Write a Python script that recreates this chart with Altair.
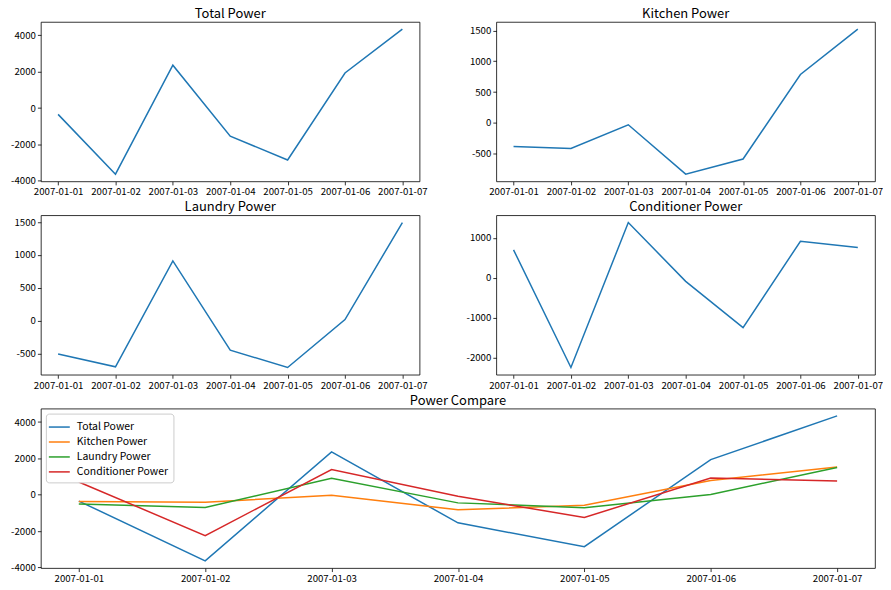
import altair as alt
import pandas as pd

dates = ["2007-01-01", "2007-01-02", "2007-01-03", "2007-01-04",
         "2007-01-05", "2007-01-06", "2007-01-07"]
total = [-350, -3640, 2360, -1550, -2860, 1930, 4340]
kitchen = [-380, -415, -30, -830, -585, 785, 1520]
laundry = [-510, -705, 910, -450, -715, 15, 1495]
conditioner = [700, -2250, 1385, -90, -1250, 915, 760]

series_names = ["Total Power", "Kitchen Power", "Laundry Power", "Conditioner Power"]
series_values = [total, kitchen, laundry, conditioner]
tick_sets = [
    [-4000, -2000, 0, 2000, 4000],
    [-500, 0, 500, 1000, 1500],
    [-500, 0, 500, 1000, 1500],
    [-2000, -1000, 0, 1000],
]
compare_ticks = [-4000, -2000, 0, 2000, 4000]
colors = ["#1f77b4", "#ff7f0e", "#2ca02c", "#d62728"]

FONT = "Noto Sans CJK SC"
TICK_FS = 9.7

rows = []
for name, vals in zip(series_names, series_values):
    for d, v in zip(dates, vals):
        rows.append({"date": d, "value": v, "series": name})
df = pd.DataFrame(rows)


def padded(vals):
    lo, hi = min(vals), max(vals)
    m = (hi - lo) * 0.05
    return [lo - m, hi + m]


def xenc():
    return alt.X("date:O", sort=dates,
                 scale=alt.Scale(type="point", padding=0.3),
                 axis=alt.Axis(title=None, labelAngle=0, domain=False,
                               tickColor="black", tickSize=3.5, tickWidth=0.8,
                               labelPadding=2, labelFontSize=TICK_FS, labelFont=FONT,
                               labelColor="black"))


def yenc(domain, ticks):
    return alt.Y("value:Q",
                 scale=alt.Scale(domain=domain, nice=False, zero=False),
                 axis=alt.Axis(title=None, values=ticks, grid=False, domain=False,
                               tickColor="black", tickSize=3.5, tickWidth=0.8,
                               labelPadding=2, labelFontSize=TICK_FS, labelFont=FONT,
                               labelColor="black", labelExpr="'' + datum.value"))


def title(t):
    return alt.TitleParams(t, fontSize=13, font=FONT, fontWeight="normal",
                           color="black", offset=1, anchor="middle")


panels = []
for name, vals, ticks in zip(series_names, series_values, tick_sets):
    p = alt.Chart(df[df.series == name], title=title(name)).mark_line(
        color=colors[0], strokeWidth=1.5
    ).encode(x=xenc(), y=yenc(padded(vals), ticks)).properties(width=380, height=160)
    panels.append(p)

all_vals = total + kitchen + laundry + conditioner
compare = alt.Chart(df, title=title("Power Compare")).mark_line(strokeWidth=1.5).encode(
    x=xenc(),
    y=yenc(padded(all_vals), compare_ticks),
    color=alt.Color("series:N", sort=series_names,
                    scale=alt.Scale(domain=series_names, range=colors),
                    legend=alt.Legend(title=None, orient="top-left", offset=5,
                                      symbolType="M-1.4,0L1.4,0", symbolSize=225,
                                      symbolStrokeWidth=1.5, labelFontSize=10.5,
                                      labelOffset=9,
                                      labelFont=FONT, labelColor="black",
                                      fillColor="white", strokeColor="#cccccc",
                                      padding=5, rowPadding=1, cornerRadius=3)),
).properties(width=837, height=160)

row1 = alt.hconcat(panels[0], panels[1], spacing=77, bounds="flush")
row2 = alt.hconcat(panels[2], panels[3], spacing=77, bounds="flush")
chart = alt.vconcat(row1, row2, compare, spacing=3).resolve_scale(
    color="independent"
).resolve_legend(color="independent").properties(
    padding={"left": 2, "top": -2, "right": 0, "bottom": 0}, background="white"
).configure_view(stroke="black", strokeWidth=0.8)

chart.save("out.html", embed_options={"renderer": "svg", "actions": False})
